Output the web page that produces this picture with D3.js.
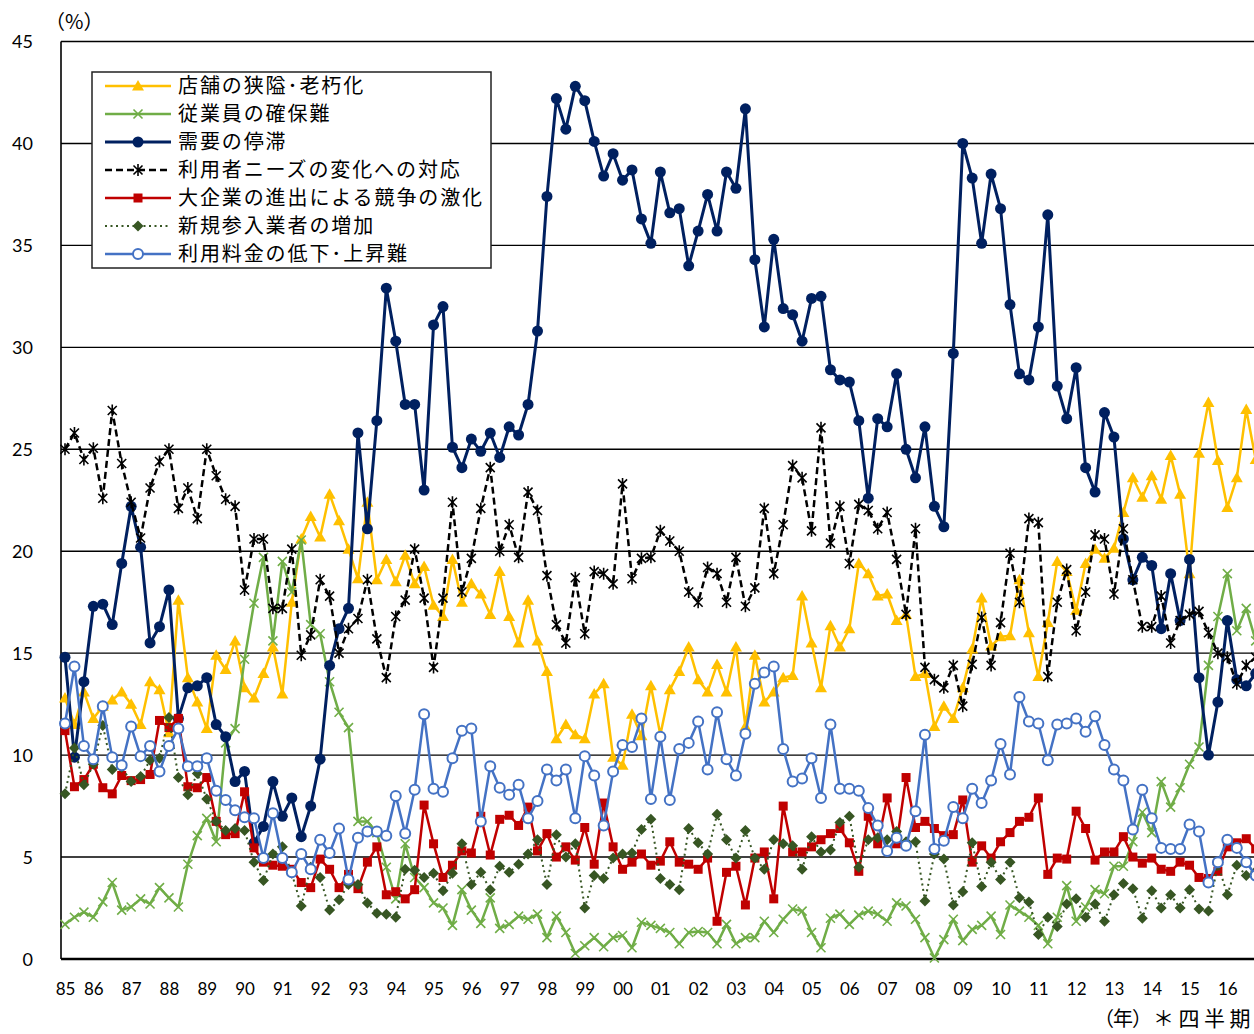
<!DOCTYPE html>
<html>
<head>
<meta charset="utf-8">
<script src="https://cdn.jsdelivr.net/npm/d3@7"></script>
<style>
  body { margin: 0; background: #fff; }
  svg { display: block; }
</style>
</head>
<body>
<div id="content"></div>
<script>
// Category axis: first row is 1985 Q2, then a label on every Q1.
var yearLabels = ['85','86','87','88','89','90','91','92','93','94','95','96','97','98','99',
                  '00','01','02','03','04','05','06','07','08','09','10','11','12','13','14','15','16'];
var yTicks = [0, 5, 10, 15, 20, 25, 30, 35, 40, 45];

// Series values (%), quarterly, 1985 Q2 onwards.
var shopAging = [12.8, 11.5, 13.1, 11.8, 12.4, 12.7, 13.1, 12.5, 11.5, 13.6,
  13.2, 11.1, 17.6, 13.8, 12.6, 11.3, 14.9, 14.2, 15.6, 13.3,
  12.8, 14.0, 15.3, 13.0, 17.5, 20.6, 21.7, 20.7, 22.8, 21.5,
  20.1, 18.65, 22.4, 18.6, 19.6, 18.5, 19.8, 18.4, 19.25, 17.35,
  16.8, 19.6, 17.5, 18.4, 17.9, 16.9, 19.0, 16.8, 15.5, 17.6,
  15.6, 14.1, 10.8, 11.5, 11.0, 10.8, 13.0, 13.5, 9.9, 9.5,
  12.0, 10.95, 13.4, 11.0, 13.2, 14.1, 15.3, 13.7, 13.1, 14.45,
  13.1, 15.3, 11.4, 14.9, 12.6, 13.1, 13.8, 13.9, 17.8, 15.5,
  13.3, 16.35, 15.3, 16.2, 19.4, 18.9, 17.8, 17.9, 16.6, 16.9,
  13.85, 14.0, 11.4, 12.4, 11.8, 13.3, 15.2, 17.7, 15.35, 15.8,
  15.85, 18.6, 16.0, 13.85, 16.5, 19.5, 19.0, 17.1, 19.4, 20.1,
  19.65, 20.15, 21.9, 23.6, 22.65, 23.7, 22.55, 24.7, 22.8, 18.9,
  24.8, 27.3, 24.45, 22.15, 23.6, 26.95, 24.5];

var staffShortage = [1.7, 2.05, 2.3, 2.05, 2.8, 3.75, 2.4, 2.55, 2.95, 2.7,
  3.5, 3.0, 2.55, 4.65, 6.05, 6.9, 5.75, 10.6, 11.3, 14.7,
  17.45, 19.7, 15.6, 19.5, 18.0, 20.55, 16.4, 15.95, 13.6, 12.1,
  11.35, 6.75, 6.75, 6.2, 4.5, 2.95, 5.65, 4.0, 3.5, 2.75,
  2.5, 1.65, 3.4, 2.4, 1.75, 3.0, 1.5, 1.7, 2.1, 1.95,
  2.2, 1.05, 2.1, 1.3, 0.27, 0.65, 1.05, 0.6, 1.05, 1.15,
  0.55, 1.8, 1.65, 1.5, 1.3, 0.75, 1.3, 1.35, 1.3, 0.75,
  1.7, 0.75, 1.05, 1.05, 1.85, 1.3, 1.95, 2.45, 2.35, 1.3,
  0.55, 2.0, 2.2, 1.7, 2.15, 2.35, 2.2, 1.85, 2.75, 2.6,
  1.95, 1.05, 0.05, 0.95, 1.95, 0.9, 1.45, 1.65, 2.1, 1.2,
  2.65, 2.35, 2.05, 1.65, 0.75, 2.05, 3.6, 1.85, 2.55, 3.4,
  3.2, 4.55, 4.55, 5.75, 7.2, 6.2, 8.7, 7.45, 8.4, 9.55,
  10.4, 14.4, 16.8, 18.9, 16.1, 17.2, 15.6];

var weakDemand = [14.8, 9.9, 13.6, 17.3, 17.4, 16.4, 19.4, 22.2, 20.2, 15.5,
  16.3, 18.1, 11.8, 13.3, 13.4, 13.8, 11.5, 10.9, 8.7, 9.2,
  5.7, 6.5, 8.7, 7.0, 7.9, 6.0, 7.5, 9.8, 14.4, 16.2,
  17.2, 25.8, 21.1, 26.4, 32.9, 30.3, 27.2, 27.2, 23.0, 31.1,
  32.0, 25.1, 24.1, 25.5, 24.9, 25.8, 24.6, 26.1, 25.7, 27.2,
  30.8, 37.4, 42.2, 40.7, 42.8, 42.1, 40.1, 38.4, 39.5, 38.2,
  38.7, 36.3, 35.1, 38.6, 36.6, 36.8, 34.0, 35.7, 37.5, 35.7,
  38.6, 37.8, 41.7, 34.3, 31.0, 35.3, 31.9, 31.6, 30.3, 32.4,
  32.5, 28.9, 28.4, 28.3, 26.4, 22.6, 26.5, 26.1, 28.7, 25.0,
  23.6, 26.1, 22.2, 21.2, 29.7, 40.0, 38.3, 35.1, 38.5, 36.8,
  32.1, 28.7, 28.4, 31.0, 36.5, 28.1, 26.5, 29.0, 24.1, 22.9,
  26.8, 25.6, 20.6, 18.6, 19.7, 19.3, 16.2, 18.9, 16.6, 19.6,
  13.8, 10.0, 12.6, 16.6, 13.7, 13.4, 14.0];

var changingNeeds = [25.0, 25.8, 24.5, 25.05, 22.6, 26.9, 24.3, 22.4, 20.65, 23.1,
  24.4, 25.0, 22.1, 23.1, 21.6, 25.0, 23.7, 22.55, 22.2, 18.1,
  20.6, 20.6, 17.2, 17.2, 20.1, 14.9, 15.9, 18.6, 17.8, 15.0,
  16.2, 16.7, 18.6, 15.7, 13.8, 16.8, 17.6, 20.1, 17.7, 14.3,
  17.7, 22.4, 18.0, 19.65, 22.1, 24.1, 20.0, 21.3, 19.7, 22.9,
  22.0, 18.8, 16.4, 15.5, 18.7, 15.95, 19.0, 18.9, 18.4, 23.3,
  18.65, 19.65, 19.7, 21.0, 20.5, 20.0, 18.0, 17.5, 19.2, 18.9,
  17.5, 19.7, 17.3, 18.2, 22.1, 18.9, 21.3, 24.2, 23.6, 21.0,
  26.05, 20.4, 22.2, 19.4, 22.3, 22.0, 21.1, 21.9, 19.6, 16.9,
  21.1, 14.3, 13.7, 13.3, 14.4, 12.4, 14.45, 16.75, 14.4, 16.5,
  19.9, 17.5, 21.6, 21.4, 13.85, 17.5, 19.1, 16.1, 18.0, 20.8,
  20.6, 17.9, 21.1, 18.6, 16.3, 16.3, 17.8, 15.5, 16.6, 16.9,
  17.05, 16.0, 15.0, 14.8, 13.5, 14.4, 14.8];

var bigCompetitors = [11.2, 8.45, 8.8, 9.55, 8.4, 8.1, 9.0, 8.75, 8.8, 9.05,
  11.7, 11.35, 11.8, 8.45, 8.4, 8.9, 6.75, 6.1, 6.15, 8.2,
  5.45, 4.75, 4.6, 4.55, 4.4, 3.75, 3.5, 4.9, 4.4, 3.5,
  4.15, 3.45, 4.75, 5.5, 3.15, 3.3, 2.95, 3.4, 7.55, 5.65,
  4.0, 4.6, 5.3, 5.2, 7.0, 5.1, 6.85, 7.05, 6.55, 7.45,
  5.3, 6.15, 5.0, 5.5, 4.85, 6.45, 4.65, 7.65, 5.5, 4.4,
  4.75, 5.15, 4.6, 4.8, 5.75, 4.75, 4.65, 4.4, 4.95, 1.85,
  4.25, 4.55, 2.65, 4.95, 5.25, 2.95, 7.5, 5.25, 5.25, 5.5,
  5.85, 6.15, 6.4, 5.7, 4.3, 7.0, 5.65, 7.9, 5.65, 8.9,
  6.45, 6.75, 6.4, 6.05, 6.1, 7.8, 4.75, 5.55, 4.95, 5.75,
  6.2, 6.75, 6.95, 7.9, 4.15, 4.95, 4.9, 7.25, 6.4, 4.85,
  5.25, 5.25, 6.0, 5.0, 4.7, 4.95, 4.4, 4.3, 4.75, 4.6,
  4.0, 3.95, 4.3, 5.5, 5.7, 5.9, 5.4];

var newEntrants = [8.1, 10.35, 8.55, 9.55, 11.45, 9.3, 9.4, 8.7, 8.95, 9.75,
  9.85, 11.85, 8.9, 8.05, 9.1, 7.85, 6.75, 6.3, 6.4, 6.3,
  4.75, 3.85, 5.15, 5.5, 4.2, 2.6, 4.5, 4.0, 2.4, 2.9,
  3.65, 3.65, 2.75, 2.25, 2.2, 2.05, 4.4, 4.35, 4.0, 4.2,
  3.35, 4.2, 5.65, 3.65, 4.25, 3.4, 4.55, 4.25, 4.65, 5.15,
  5.85, 3.65, 6.1, 5.0, 5.65, 2.5, 4.1, 3.95, 4.95, 5.15,
  5.2, 6.35, 6.85, 3.95, 3.65, 3.4, 6.4, 5.7, 5.15, 7.1,
  5.85, 4.95, 6.3, 4.95, 4.4, 5.85, 5.65, 5.55, 4.4, 6.0,
  5.25, 5.35, 6.7, 7.0, 4.5, 5.85, 5.95, 5.85, 6.25, 5.75,
  5.75, 2.85, 5.15, 4.9, 2.65, 3.3, 5.7, 3.55, 4.75, 3.9,
  4.75, 3.0, 2.8, 1.2, 2.05, 1.6, 2.7, 2.95, 2.05, 2.7,
  1.85, 3.15, 3.7, 3.45, 2.0, 3.35, 2.5, 3.15, 2.5, 3.4,
  2.45, 2.35, 4.65, 3.15, 4.6, 4.1, 4.3];

var priceSqueeze = [11.55, 14.35, 10.45, 9.8, 12.4, 9.9, 9.5, 11.4, 9.95, 10.45,
  9.2, 10.45, 11.3, 9.45, 9.45, 9.85, 8.25, 7.8, 7.3, 6.95,
  6.9, 4.95, 7.15, 4.95, 4.25, 5.15, 4.4, 5.85, 5.2, 6.4,
  3.9, 5.95, 6.25, 6.25, 6.05, 8.0, 6.15, 8.3, 12.0, 8.35,
  8.2, 9.85, 11.2, 11.3, 6.75, 9.45, 8.4, 8.05, 8.55, 6.9,
  7.75, 9.3, 8.75, 9.3, 6.9, 9.95, 9.0, 6.55, 9.2, 10.5,
  10.4, 11.8, 7.85, 10.9, 7.8, 10.3, 10.6, 11.65, 9.3, 12.1,
  9.8, 9.0, 11.05, 13.5, 14.05, 14.35, 10.3, 8.7, 8.85, 9.85,
  7.9, 11.5, 8.35, 8.35, 8.25, 7.4, 6.55, 5.3, 5.95, 5.55,
  7.25, 11.0, 5.4, 5.8, 7.45, 6.9, 8.35, 7.65, 8.75, 10.55,
  9.05, 12.85, 11.65, 11.55, 9.75, 11.5, 11.55, 11.8, 11.15, 11.9,
  10.5, 9.3, 8.75, 6.35, 8.3, 6.9, 5.45, 5.4, 5.4, 6.6,
  6.25, 3.75, 4.75, 5.85, 5.45, 4.75, 4.1];

var seriesNames = ['店舗の狭隘･老朽化', '従業員の確保難', '需要の停滞',
  '利用者ニーズの変化への対応', '大企業の進出による競争の激化',
  '新規参入業者の増加', '利用料金の低下･上昇難'];

// Styling for each series (same order as the legend).
var series = [
  {name : seriesNames[0], values : shopAging, color : '#FFC000', width : 2.5, dash : null, marker : 'triangle'},
  {name : seriesNames[1], values : staffShortage, color : '#70AD47', width : 2.5, dash : null, marker : 'x'},
  {name : seriesNames[2], values : weakDemand, color : '#002060', width : 3, dash : null, marker : 'dot'},
  {name : seriesNames[3], values : changingNeeds, color : '#000000', width : 2.5, dash : '7,4', marker : 'star'},
  {name : seriesNames[4], values : bigCompetitors, color : '#C00000', width : 2.5, dash : null, marker : 'square'},
  {name : seriesNames[5], values : newEntrants, color : '#375623', width : 2, dash : '2,3.5', marker : 'diamond'},
  {name : seriesNames[6], values : priceSqueeze, color : '#4472C4', width : 2.5, dash : null, marker : 'ring'},
];

var W = 1254, H = 1034;
var numFont = 'Lato, "Liberation Sans", sans-serif';
var jpFont = '"Noto Sans CJK JP", "Noto Sans", sans-serif';

var svg = d3.select('#content')
              .append('svg')
              .attr('width', W)
              .attr('height', H);

var nPoints = shopAging.length;

// Scales: one step per quarter, the plot runs past the right edge of the picture.
var x = d3.scaleLinear().domain([ 0, nPoints - 1 ]).range([ 65, 65 + 9.45 * (nPoints - 1) ]);
var y = d3.scaleLinear().domain([ 0, 45 ]).range([ 959, 41.5 ]);

// Gridlines.
svg.append('g')
    .selectAll('line')
    .data(yTicks.filter(function(d) { return d > 0; }))
    .enter()
    .append('line')
    .attr('x1', 61)
    .attr('x2', W)
    .attr('y1', function(d) { return y(d); })
    .attr('y2', function(d) { return y(d); })
    .attr('stroke', '#000')
    .attr('stroke-width', 1.4);

// Y axis line and labels.
svg.append('line')
    .attr('x1', 61).attr('x2', 61)
    .attr('y1', y(45)).attr('y2', y(0))
    .attr('stroke', '#000').attr('stroke-width', 1.6);

svg.append('g')
    .selectAll('text')
    .data(yTicks)
    .enter()
    .append('text')
    .attr('x', 33)
    .attr('y', function(d) { return y(d) + 6.5; })
    .attr('text-anchor', 'end')
    .style('font-family', numFont)
    .style('font-size', '18px')
    .attr('fill', '#000')
    .text(function(d) { return d; });

svg.append('text')
    .attr('x', 45).attr('y', 29)
    .style('font-family', jpFont)
    .style('font-size', '20px')
    .text('（%）');

// X axis line and year labels.
svg.append('line')
    .attr('x1', 61).attr('x2', W)
    .attr('y1', y(0)).attr('y2', y(0))
    .attr('stroke', '#000').attr('stroke-width', 2.6);

var xAxis = d3.axisBottom(x)
                .tickValues(yearLabels.map(function(d, i) { return i === 0 ? 0 : 4 * i - 1; }))
                .tickFormat(function(d, i) { return yearLabels[i]; })
                .tickSize(0)
                .tickPadding(0);

var gx = svg.append('g')
             .attr('transform', 'translate(0,' + 983 + ')')
             .call(xAxis);
gx.select('.domain').remove();
gx.selectAll('text')
    .style('font-family', numFont)
    .style('font-size', '17px')
    .attr('fill', '#000');

svg.append('text')
    .attr('x', 1094).attr('y', 1026)
    .style('font-family', jpFont)
    .style('font-size', '20px')
    .style('letter-spacing', '-1px')
    .text('（年）');

svg.append('text')
    .attr('x', 1153).attr('y', 1026)
    .style('font-family', jpFont)
    .style('font-size', '21px')
    .style('letter-spacing', '4.5px')
    .text('＊四半期');

// Marker drawing.
function drawMarker(sel, s) {
  var c = s.color;
  if (s.marker === 'triangle') {
    sel.append('path').attr('d', 'M0,-6L6,4.5L-6,4.5Z').attr('fill', c);
  } else if (s.marker === 'x') {
    sel.append('path').attr('d', 'M-4.5,-4.5L4.5,4.5M-4.5,4.5L4.5,-4.5')
        .attr('stroke', c).attr('stroke-width', 1.6).attr('fill', 'none');
  } else if (s.marker === 'dot') {
    sel.append('circle').attr('r', 5.5).attr('fill', c);
  } else if (s.marker === 'star') {
    sel.append('path').attr('d', 'M-4.5,-4.5L4.5,4.5M-4.5,4.5L4.5,-4.5M0,-6L0,6')
        .attr('stroke', c).attr('stroke-width', 1.6).attr('fill', 'none');
  } else if (s.marker === 'square') {
    sel.append('rect').attr('x', -4.5).attr('y', -4.5).attr('width', 9).attr('height', 9).attr('fill', c);
  } else if (s.marker === 'diamond') {
    sel.append('path').attr('d', 'M0,-5.5L5.5,0L0,5.5L-5.5,0Z').attr('fill', c);
  } else if (s.marker === 'ring') {
    sel.append('circle').attr('r', 5).attr('fill', '#fff')
        .attr('stroke', c).attr('stroke-width', 2);
  }
}

var line = d3.line()
               .x(function(d, i) { return x(i); })
               .y(function(d) { return y(d); });

// Draw the series.
series.forEach(function(s) {
  var g = svg.append('g');
  g.append('path')
      .datum(s.values)
      .attr('fill', 'none')
      .attr('stroke', s.color)
      .attr('stroke-width', s.width)
      .attr('stroke-dasharray', s.dash)
      .attr('stroke-linejoin', 'round')
      .attr('d', line);
  g.selectAll('g.m')
      .data(s.values)
      .enter()
      .append('g')
      .attr('class', 'm')
      .attr('transform', function(d, i) { return 'translate(' + x(i) + ',' + y(d) + ')'; })
      .each(function() { drawMarker(d3.select(this), s); });
});

// Legend.
var legend = svg.append('g');
legend.append('rect')
    .attr('x', 92).attr('y', 72)
    .attr('width', 399).attr('height', 196)
    .attr('fill', '#fff')
    .attr('stroke', '#222')
    .attr('stroke-width', 1.5);

series.forEach(function(s, i) {
  var ly = 86 + i * 28;
  var row = legend.append('g');
  row.append('line')
      .attr('x1', 105).attr('x2', 171)
      .attr('y1', ly).attr('y2', ly)
      .attr('stroke', s.color)
      .attr('stroke-width', s.width)
      .attr('stroke-dasharray', s.dash);
  drawMarker(row.append('g').attr('transform', 'translate(138,' + ly + ')'), s);
  row.append('text')
      .attr('x', 178).attr('y', ly + 7)
      .style('font-family', jpFont)
      .style('font-size', '20px')
      .style('letter-spacing', '1.9px')
      .attr('fill', '#000')
      .text(s.name);
});
</script>
</body>
</html>
